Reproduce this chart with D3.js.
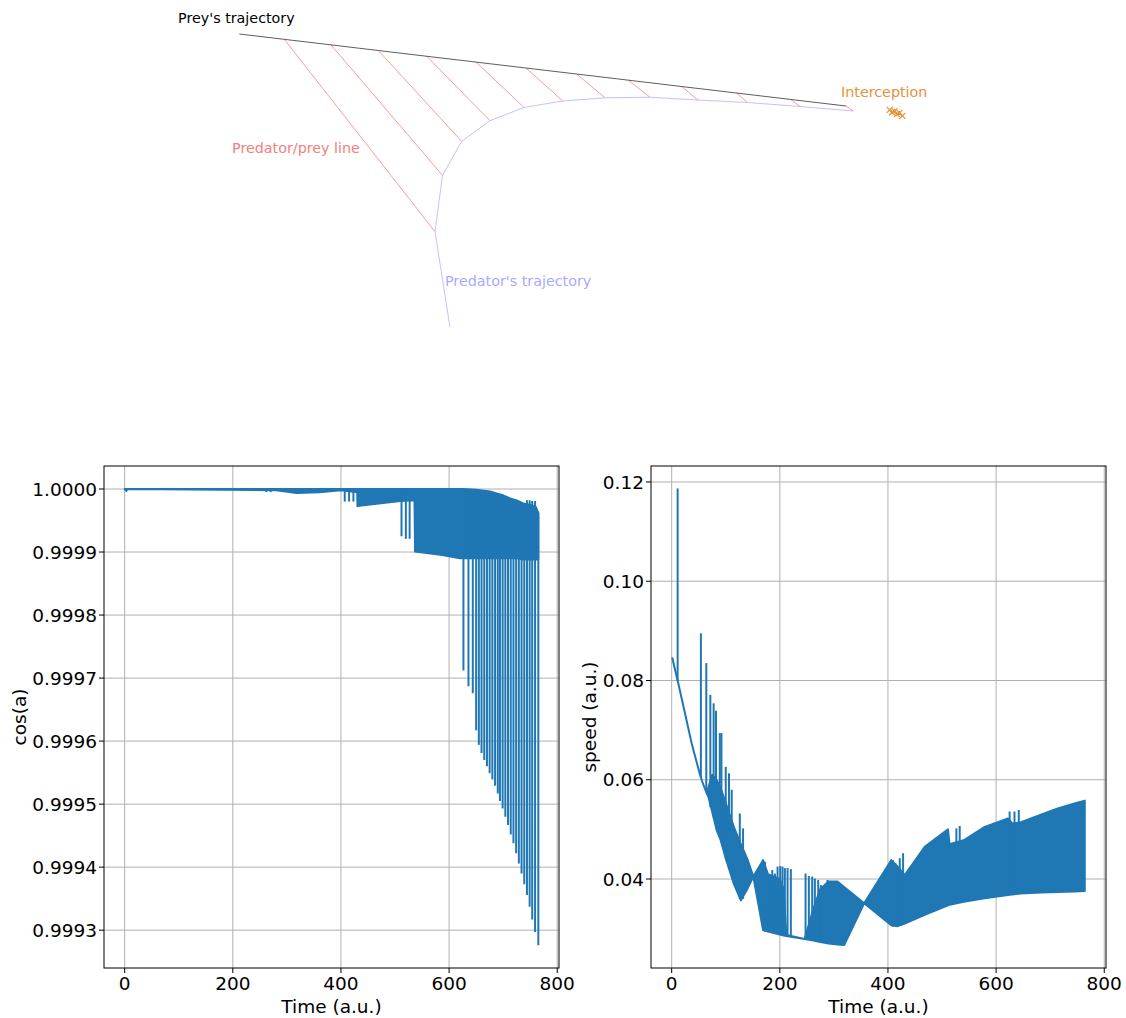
<!DOCTYPE html>
<html>
<head>
<meta charset="utf-8">
<script src="https://cdn.jsdelivr.net/npm/d3@7"></script>
<style>
  body { margin: 0; background: #fff; }
  svg text { font-family: 'DejaVu Sans', sans-serif; }
</style>
</head>
<body>
<div id="vis"></div>
<script>
const SVG = d3.select('#vis').append('svg');

const WIDTH_VIS = 1126;
const HEIGHT_VIS = 1018;
SVG.attr('width', WIDTH_VIS).attr('height', HEIGHT_VIS);

const BLUE = '#1f77b4';

// --- top panel: positions (arbitrary units)
const preyX = [0, 7.42, 15.11, 22.91, 30.89, 39.01, 47.26, 55.61, 64.12, 72.92, 81.98, 90.89, 100];
const preyY = [0, -0.88, -1.79, -2.72, -3.67, -4.63, -5.61, -6.6, -7.61, -8.66, -9.73, -10.79, -11.87];
const predX = [34.73, 32.26, 33.49, 36.66, 41.32, 46.93, 53.31, 60.28, 67.69, 75.6, 83.76, 92.42, 101.2];
const predY = [-48.34, -32.59, -23.29, -17.69, -14.29, -12.11, -11.04, -10.52, -10.43, -10.88, -11.29, -11.95, -12.69];
const interX = [107.2, 107.6, 108.0, 108.4, 108.8, 109.3];
const interY = [-12.5, -12.9, -12.7, -13.2, -13.0, -13.5];

// --- cos(a): band envelope + single spikes
const cosEnvT = [0, 3, 5, 280, 318, 360, 400, 430, 430.5, 470, 510, 536, 537, 580, 590, 620, 626, 650, 676, 688, 700, 713, 725, 737, 750, 760, 765];
const cosEnvHi = [1, 1, 1, 1, 1, 1, 1, 1, 1, 1, 1, 1, 1, 1, 1, 1, 1, 0.999999, 0.999996, 0.999993, 0.99999, 0.999985, 0.999982, 0.999977, 0.999975, 0.999972, 0.999962];
const cosEnvLo = [1, 0.999997, 1, 0.999998, 0.9999935, 0.999995, 0.999998, 0.999995, 0.999973, 0.999977, 0.999981, 0.999982, 0.999901, 0.999896, 0.999895, 0.99989, 0.99989, 0.99989, 0.99989, 0.99989, 0.99989, 0.99989, 0.99989, 0.999888, 0.999888, 0.999888, 0.999888];
const cosSpikeT = [262, 270, 407, 415, 423, 512, 520, 527, 626.5, 635.8, 643.8, 650, 655, 660, 665, 670, 675, 680, 685, 690, 694, 699, 704, 709, 714, 719, 724, 729, 734, 739, 744, 749, 753.7, 759, 765];
const cosSpikeHi = [1, 1, 1, 1, 1, 1, 1, 1, 1, 1, 1, 0.999999, 0.999999, 0.999998, 0.999998, 0.999997, 0.999996, 0.999995, 0.999994, 0.999993, 0.999992, 0.99999, 0.999989, 0.999987, 0.999985, 0.999984, 0.999982, 0.99998, 0.999978, 0.999977, 0.999982, 0.999982, 0.999981, 0.999981, 0.999962];
const cosSpikeLo = [0.999995, 0.999995, 0.99998, 0.99998, 0.99998, 0.999925, 0.999921, 0.999921, 0.999712, 0.999687, 0.999676, 0.999617, 0.999594, 0.999581, 0.99957, 0.99956, 0.999549, 0.999539, 0.999529, 0.999517, 0.999505, 0.999493, 0.99948, 0.999467, 0.999452, 0.999438, 0.999422, 0.999406, 0.99939, 0.999373, 0.999356, 0.999337, 0.999317, 0.999297, 0.999276];
const cosTicks = [0.9993, 0.9994, 0.9995, 0.9996, 0.9997, 0.9998, 0.9999, 1.0];

// --- speed: band envelope + single spikes
const spdEnvT = [1.3, 9.2, 12.3, 24.6, 37, 52.4, 56.6, 64.7, 68, 75, 83, 90, 101, 115, 128, 140, 151, 169, 178, 200, 207, 212, 246, 262, 275, 290, 306.6, 319, 356, 406, 418, 431, 468, 511, 514, 540, 579, 622, 630, 645, 684, 714, 745, 764];
const spdEnvHi = [0.0845, 0.0808, 0.0794, 0.0734, 0.0673, 0.061, 0.0596, 0.0573, 0.0585, 0.061, 0.06, 0.0585, 0.055, 0.0505, 0.047, 0.044, 0.0405, 0.0438, 0.041, 0.04, 0.038, 0.0287, 0.0279, 0.034, 0.038, 0.0395, 0.0395, 0.0384, 0.0351, 0.0438, 0.0425, 0.0408, 0.0465, 0.05, 0.047, 0.0478, 0.0505, 0.0522, 0.0512, 0.0514, 0.053, 0.0542, 0.0552, 0.0558];
const spdEnvLo = [0.0845, 0.0808, 0.0794, 0.0734, 0.0673, 0.061, 0.0596, 0.0573, 0.0565, 0.0535, 0.0499, 0.048, 0.0438, 0.039, 0.0357, 0.038, 0.0405, 0.0297, 0.0294, 0.0288, 0.0286, 0.0285, 0.0279, 0.0276, 0.0273, 0.027, 0.0268, 0.0267, 0.0351, 0.0307, 0.0305, 0.031, 0.0328, 0.0347, 0.0348, 0.0354, 0.0361, 0.0368, 0.0369, 0.0371, 0.0373, 0.0374, 0.0375, 0.0376];
const spdSpikeT = [11, 54, 64, 71.5, 77.6, 82, 89, 92, 100, 106, 111, 126, 132, 172.4, 178.6, 186, 191, 195.8, 200.8, 205, 209.3, 214.3, 220.4, 247.6, 253.7, 259.9, 264.8, 271, 275.9, 288.2, 296.8, 409.5, 413.8, 421.8, 428, 526.5, 532.7, 625, 634, 642];
const spdSpikeHi = [0.1187, 0.0895, 0.0835, 0.0771, 0.0754, 0.0739, 0.0694, 0.0694, 0.0626, 0.0613, 0.058, 0.0532, 0.0502, 0.0435, 0.0408, 0.0418, 0.0411, 0.0425, 0.0426, 0.0425, 0.0422, 0.0422, 0.042, 0.0411, 0.0406, 0.0405, 0.0401, 0.0398, 0.0388, 0.0398, 0.0395, 0.0438, 0.0432, 0.0442, 0.0452, 0.0502, 0.0507, 0.0536, 0.0536, 0.0539];
const spdSpikeLo = [0.08, 0.0605, 0.0575, 0.0545, 0.0525, 0.0505, 0.0485, 0.0475, 0.044, 0.0425, 0.041, 0.036, 0.036, 0.0294, 0.0293, 0.0291, 0.029, 0.0289, 0.0288, 0.0287, 0.0286, 0.0285, 0.0283, 0.0279, 0.0278, 0.0277, 0.0276, 0.0274, 0.0273, 0.027, 0.0269, 0.0304, 0.0305, 0.0307, 0.0309, 0.0352, 0.0353, 0.0368, 0.0369, 0.037];
const spdTicks = [0.04, 0.06, 0.08, 0.1, 0.12];

const timeTicks = [0, 200, 400, 600, 800];

function main() {
  drawTopPanel();
  drawSignal({
    left: 104, right: 559, top: 466, bottom: 968,
    yDomain: [0.99924, 1.0000365],
    yTicks: cosTicks, yFormat: d3.format('.4f'),
    yLabel: 'cos(a)', yLabelX: 26,
    envT: cosEnvT, envHi: cosEnvHi, envLo: cosEnvLo,
    spikeT: cosSpikeT, spikeHi: cosSpikeHi, spikeLo: cosSpikeLo,
  });
  drawSignal({
    left: 651, right: 1106, top: 466, bottom: 968,
    yDomain: [0.02207, 0.12322],
    yTicks: spdTicks, yFormat: d3.format('.2f'),
    yLabel: 'speed (a.u.)', yLabelX: 596,
    envT: spdEnvT, envHi: spdEnvHi, envLo: spdEnvLo,
    spikeT: spdSpikeT, spikeHi: spdSpikeHi, spikeLo: spdSpikeLo,
  });
}

// Trajectories, predator/prey lines and labels
function drawTopPanel() {
  const x = d3.scaleLinear().domain([0, 100]).range([239.3, 846]);
  const y = d3.scaleLinear().domain([0, -100]).range([34, 640.7]);
  const g = SVG.append('g');

  const line = d3.line().x((d) => x(d[0])).y((d) => y(d[1]));

  // predator/prey lines
  for (let i = 1; i < preyX.length; i++) {
    g.append('line')
      .attr('x1', x(preyX[i])).attr('y1', y(preyY[i]))
      .attr('x2', x(predX[i])).attr('y2', y(predY[i]))
      .attr('stroke', '#ff7f7f')
      .attr('stroke-width', 0.8);
  }

  g.append('path')
    .attr('d', line(d3.zip(preyX, preyY)))
    .attr('fill', 'none')
    .attr('stroke', '#333')
    .attr('stroke-width', 0.8);

  g.append('path')
    .attr('d', line(d3.zip(predX, predY)))
    .attr('fill', 'none')
    .attr('stroke', '#bbbbff')
    .attr('stroke-width', 0.9);

  // interception markers
  const inter = d3.zip(interX, interY);
  g.append('path')
    .attr('d', line(inter))
    .attr('fill', 'none')
    .attr('stroke', '#e8923a')
    .attr('stroke-width', 2);
  inter.forEach((d) => {
    const cx = x(d[0]);
    const cy = y(d[1]);
    g.append('path')
      .attr('d', `M${cx - 3},${cy - 3}L${cx + 3},${cy + 3}M${cx - 3},${cy + 3}L${cx + 3},${cy - 3}`)
      .attr('stroke', '#e8923a')
      .attr('stroke-width', 1.2);
  });

  const labels = [
    { text: "Prey's trajectory", x: -10.1, y: 1.75, color: '#000000' },
    { text: 'Predator/prey line', x: -1.2, y: -19.55, color: '#f08080' },
    { text: "Predator's trajectory", x: 33.9, y: -41.5, color: '#aaaaff' },
    { text: 'Interception', x: 99.18, y: -10.4, color: '#e8923a' },
  ];
  labels.forEach((l) => {
    g.append('text')
      .attr('x', x(l.x))
      .attr('y', y(l.y))
      .attr('font-size', 14.3)
      .attr('fill', l.color)
      .text(l.text);
  });
}

// One subplot: grid, band, spikes, frame, ticks and labels
function drawSignal(c) {
  const x = d3.scaleLinear().domain([-38.25, 803.25]).range([c.left, c.right]);
  const y = d3.scaleLinear().domain(c.yDomain).range([c.bottom, c.top]);
  const g = SVG.append('g');

  // grid
  timeTicks.forEach((t) => {
    g.append('line')
      .attr('x1', x(t)).attr('x2', x(t))
      .attr('y1', c.top).attr('y2', c.bottom)
      .attr('stroke', '#b0b0b0').attr('stroke-width', 1);
  });
  c.yTicks.forEach((v) => {
    g.append('line')
      .attr('x1', c.left).attr('x2', c.right)
      .attr('y1', y(v)).attr('y2', y(v))
      .attr('stroke', '#b0b0b0').attr('stroke-width', 1);
  });

  // dense oscillation band
  const area = d3.area()
    .x((d) => x(d[0]))
    .y0((d) => y(d[2]))
    .y1((d) => y(d[1]));
  g.append('path')
    .attr('d', area(d3.zip(c.envT, c.envHi, c.envLo)))
    .attr('fill', BLUE)
    .attr('stroke', BLUE)
    .attr('stroke-width', 2)
    .attr('stroke-linejoin', 'round');

  // single spikes
  c.spikeT.forEach((t, i) => {
    g.append('line')
      .attr('x1', x(t)).attr('x2', x(t))
      .attr('y1', y(c.spikeHi[i])).attr('y2', y(c.spikeLo[i]))
      .attr('stroke', BLUE)
      .attr('stroke-width', 2);
  });

  // frame
  g.append('rect')
    .attr('x', c.left).attr('y', c.top)
    .attr('width', c.right - c.left).attr('height', c.bottom - c.top)
    .attr('fill', 'none')
    .attr('stroke', '#000')
    .attr('stroke-width', 1);

  // x ticks
  timeTicks.forEach((t) => {
    g.append('line')
      .attr('x1', x(t)).attr('x2', x(t))
      .attr('y1', c.bottom).attr('y2', c.bottom + 5)
      .attr('stroke', '#000');
    g.append('text')
      .attr('x', x(t)).attr('y', c.bottom + 22)
      .attr('text-anchor', 'middle')
      .attr('font-size', 18.5)
      .text(t);
  });

  // y ticks
  c.yTicks.forEach((v) => {
    g.append('line')
      .attr('x1', c.left - 5).attr('x2', c.left)
      .attr('y1', y(v)).attr('y2', y(v))
      .attr('stroke', '#000');
    g.append('text')
      .attr('x', c.left - 7).attr('y', y(v))
      .attr('dy', '0.36em')
      .attr('text-anchor', 'end')
      .attr('font-size', 18.5)
      .text(c.yFormat(v));
  });

  g.append('text')
    .attr('x', (c.left + c.right) / 2).attr('y', c.bottom + 45)
    .attr('text-anchor', 'middle')
    .attr('font-size', 18.5)
    .text('Time (a.u.)');

  g.append('text')
    .attr('transform', `translate(${c.yLabelX},${(c.top + c.bottom) / 2}) rotate(-90)`)
    .attr('text-anchor', 'middle')
    .attr('font-size', 18.5)
    .text(c.yLabel);
}

main();
</script>
</body>
</html>
